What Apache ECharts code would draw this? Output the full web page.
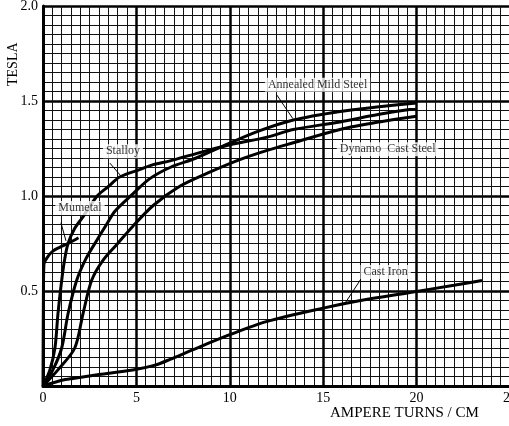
<!DOCTYPE html>
<html>
<head>
<meta charset="utf-8">
<script src="https://cdn.jsdelivr.net/npm/echarts@6/dist/echarts.min.js"></script>
<style>
html,body{margin:0;padding:0;background:#fff;}
#chart{width:509px;height:426px;}
</style>
</head>
<body>
<div id="chart"></div>
<script>
// X: ampere turns / cm, Y: tesla
const xTicks = [0, 5, 10, 15, 20, 25];
const yTicks = [0.5, 1.0, 1.5, 2.0];

const mumetal = [[0,0],[0.02,0.45],[0.05,0.64],[0.25,0.68],[0.53,0.71],[0.9,0.73],[1.34,0.75],[1.9,0.78]];
const stalloy = [[0,0],[0.37,0.085],[0.64,0.2],[0.8,0.38],[1.0,0.555],[1.15,0.66],[1.34,0.75],[1.7,0.83],[2.1,0.885],[2.9,1.0],[3.5,1.05],[4.1,1.1],[5.2,1.14],[5.9,1.165],[6.8,1.185],[7.7,1.21],[10,1.27],[12,1.31],[13.4,1.35],[15.9,1.39],[18,1.43],[20,1.46]];
const annealedMildSteel = [[0,0],[0.53,0.085],[1.0,0.2],[1.34,0.38],[1.8,0.555],[2.3,0.67],[2.9,0.77],[3.4,0.85],[3.85,0.92],[4.8,1.01],[5.7,1.09],[6.8,1.15],[8.2,1.2],[9.8,1.27],[11.5,1.34],[13.4,1.4],[15.9,1.445],[18,1.47],[20,1.49]];
const dynamoCastSteel = [[0,0],[0.8,0.085],[1.7,0.2],[2.14,0.38],[2.6,0.555],[3.2,0.66],[4.0,0.75],[4.8,0.84],[5.9,0.95],[7.3,1.05],[8.8,1.12],[10.5,1.19],[12,1.24],[13.4,1.28],[15.9,1.35],[18,1.39],[20,1.42]];
const castIron = [[0,0],[1,0.03],[1.6,0.04],[3,0.06],[4.8,0.084],[6,0.11],[6.8,0.14],[8,0.19],[10,0.27],[12,0.34],[15,0.41],[17,0.45],[19.5,0.49],[22,0.53],[23.5,0.555]];

// annotation labels: [x, y, text]
const curveLabels = [
  [14.7, 1.586, 'Annealed Mild Steel'],
  [4.28, 1.236, 'Stalloy'],
  [1.98, 0.937, 'Mumetal'],
  [18.45, 1.246, 'Dynamo  Cast Steel'],
  [18.34, 0.60, 'Cast Iron']
];
// leader lines: [[x1,y1],[x2,y2]]
const leaders = [
  [[12.5, 1.534], [13.37, 1.408]],
  [[3.58, 1.173], [4.22, 1.10]],
  [[0.96, 0.859], [1.23, 0.764]],
  [[17.0, 0.56], [16.2, 0.44]]
];

const FONT = 'Liberation Serif';
const chart = echarts.init(document.getElementById('chart'), null, {renderer: 'canvas'});

function curve(name, data) {
  return {
    name, type: 'line', data, showSymbol: false, symbol: 'none',
    smooth: 0.3,
    lineStyle: {color: '#000', width: 3}, z: 5, silent: true
  };
}

chart.setOption({
  animation: false,
  backgroundColor: '#fff',
  grid: {left: 43, top: 6, width: 467, height: 380, outerBoundsMode: 'none', containLabel: false},
  xAxis: {
    type: 'value', min: 0, max: 25, interval: 5,
    axisLine: {show: true, lineStyle: {color: '#000', width: 3}},
    axisTick: {show: false},
    axisLabel: {
      color: '#000', fontFamily: FONT, fontSize: 14, margin: 5,
      formatter: v => xTicks.includes(v) ? String(v) : ''
    },
    splitLine: {show: true, lineStyle: {color: '#000', width: 2.5}},
    minorTick: {show: false, splitNumber: 10},
    minorSplitLine: {show: true, lineStyle: {color: '#111', width: 1}}
  },
  yAxis: {
    type: 'value', min: 0, max: 2, interval: 0.5,
    axisLine: {show: true, lineStyle: {color: '#000', width: 3}},
    axisTick: {show: false},
    axisLabel: {
      color: '#000', fontFamily: FONT, fontSize: 14, margin: 5,
      formatter: v => yTicks.some(t => Math.abs(t - v) < 1e-9) ? v.toFixed(1) : ''
    },
    splitLine: {show: true, lineStyle: {color: '#000', width: 2.5}},
    minorTick: {show: false, splitNumber: 10},
    minorSplitLine: {show: true, lineStyle: {color: '#111', width: 1}}
  },
  graphic: [
    {type: 'text', left: 330, top: 406, style: {text: 'AMPERE TURNS / CM', fill: '#000', font: '15px "Liberation Serif"'}},
    {type: 'text', x: 6, y: 86, rotation: Math.PI / 2, style: {text: 'TESLA', fill: '#000', font: '14px "Liberation Serif"'}}
  ],
  series: [
    curve('Mumetal', mumetal),
    curve('Stalloy', stalloy),
    curve('Annealed Mild Steel', annealedMildSteel),
    curve('Dynamo Cast Steel', dynamoCastSteel),
    curve('Cast Iron', castIron),
    {
      type: 'lines', coordinateSystem: 'cartesian2d', z: 6, silent: true,
      lineStyle: {color: '#000', width: 1, opacity: 1},
      data: leaders.map(c => ({coords: c}))
    },
    {
      type: 'scatter', z: 10, silent: true, symbolSize: 1,
      itemStyle: {color: 'rgba(0,0,0,0)'},
      data: curveLabels,
      label: {
        show: true, position: 'inside', formatter: p => p.data[2],
        color: '#000', fontFamily: FONT, fontSize: 12,
        backgroundColor: '#fff', padding: [1, 3]
      }
    }
  ]
});
</script>
</body>
</html>
